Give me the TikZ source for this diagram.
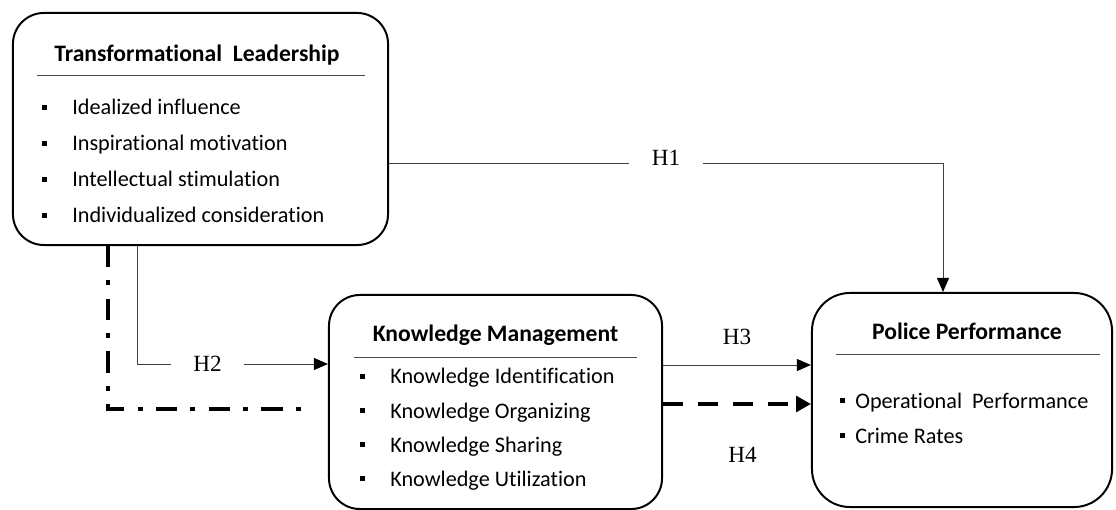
\documentclass[tikz,border=0pt]{standalone}
\usepackage{fontspec}
\setmainfont[Ligatures={NoCommon,NoContextual}]{Carlito}
\newfontfamily\hypfont{Liberation Serif}
\usetikzlibrary{arrows.meta,calc}

\tikzset{
  box/.style={draw,line width=1.4pt,rounded corners=22pt,inner sep=0pt},
  head/.style={font=\bfseries\fontsize{16.8}{20}\selectfont,anchor=base,inner sep=0pt},
  item/.style={font=\fontsize{15.8}{18}\selectfont,anchor=base west,inner sep=0pt},
  rule/.style={draw=black!70,line width=0.7pt},
  hyp/.style={font=\hypfont\fontsize{16.5}{18}\selectfont,inner sep=1pt},
  gap/.style={fill=white,inner xsep=16pt},
  tip/.style={-{Triangle[length=10pt,width=8.5pt,color=black]}},
  conn/.style={draw=black!75,line width=0.7pt,tip},
  dashline/.style={line width=3.5pt,dash pattern=on 14.2pt off 10.7pt,
    -{Triangle[length=10.5pt,width=11pt]}},
  dashdot/.style={line width=3.5pt,dash pattern=on 15pt off 9.5pt on 3.5pt off 9.5pt},
}

\begin{document}
\begin{tikzpicture}[x=0.025cm,y=-0.025cm]
  \useasboundingbox (0,0) rectangle (1116,510);

  % the three constructs
  \node[box,minimum width=9.375cm,minimum height=5.8cm] (tl) at (200.5,129) {};
  \node[box,minimum width=8.325cm,minimum height=5.35cm] (km) at (495.5,402) {};
  \node[box,rounded corners=27pt,minimum width=7.5cm,minimum height=5.35cm] (pp) at (962,400) {};

  \node[head] (tlhead) at (197,62) {Transformational\ \ Leadership};
  \node[head] (kmhead) at (495.5,342) {Knowledge Management};
  \node[head] (pphead) at (967,340) {Police Performance};
  \draw[rule] (37,75) -- (365,75);
  \draw[rule] (354,357) -- (637,357);
  \draw[rule] (836,354) -- (1100,354);

  % dimensions
  \foreach \t [count=\i] in {Idealized influence, Inspirational motivation,
      Intellectual stimulation, Individualized consideration}
  {
    \node[item] (tl\i) at (72,{115+35.7*(\i-1)}) {\t};
    \fill ($(tl\i.base west)+(-30.5,-9.5)$) rectangle +(5,5);
  }
  \foreach \t [count=\i] in {Knowledge Identification, Knowledge Organizing,
      Knowledge Sharing, Knowledge Utilization}
  {
    \node[item] (km\i) at (390,{384+34*(\i-1)}) {\t};
    \fill ($(km\i.base west)+(-30.5,-10.5)$) rectangle +(5,5);
  }
  \foreach \t [count=\i] in {Operational\ \ Performance, Crime Rates}
  {
    \node[item] (pp\i) at (855,{408+35*(\i-1)}) {\t};
    \fill ($(pp\i.base west)+(-15.5,-10.5)$) rectangle +(5,5);
  }

  % hypotheses
  \coordinate (h1) at (943,163);
  \coordinate (h2) at (137,364);
  \coordinate (h3) at (0,365);
  \coordinate (h4) at (0,404);
  \coordinate (m1) at (108,409);
  \coordinate (m2) at (313,409);

  \draw[conn] (tl.east |- h1) -- node[hyp,gap,yshift=4pt] {H1} (h1) -- (h1 |- pp.north);
  \draw[conn] (h2 |- tl.south) -- (h2) -- node[hyp,gap,pos=0.37] {H2} (km.west |- h2);
  \draw[conn] (km.east |- h3) -- node[hyp,yshift=20pt] {H3} (pp.west |- h3);
  \draw[dashline] (km.east |- h4) -- node[hyp,yshift=-36pt,xshift=4pt] {H4} (pp.west |- h4);
  \draw[dashdot] (m1 |- tl.south) -- (m1) -- (m2);
\end{tikzpicture}
\end{document}
